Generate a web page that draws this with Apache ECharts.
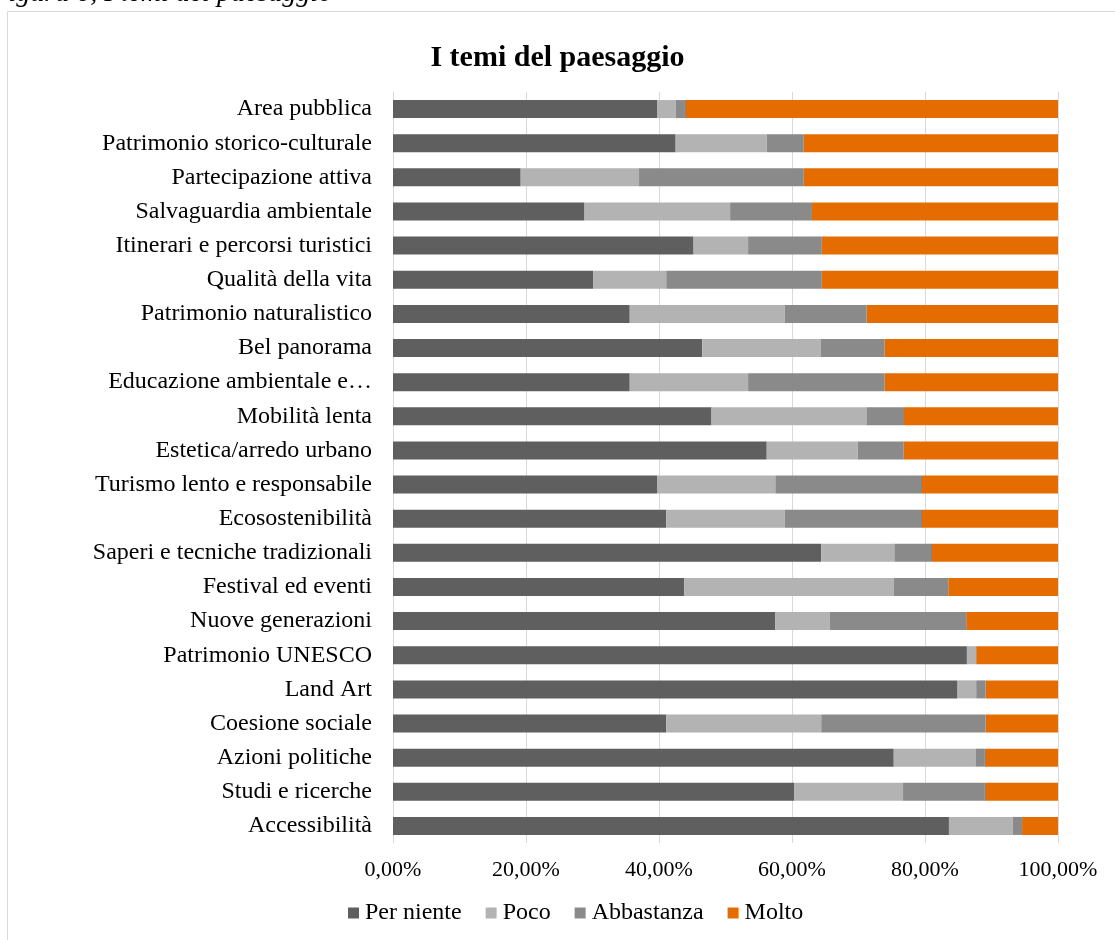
<!DOCTYPE html>
<html>
<head>
<meta charset="utf-8">
<title>I temi del paesaggio</title>
<script src="https://cdn.jsdelivr.net/npm/echarts@6/dist/echarts.min.js"></script>
<style>
  html, body { margin: 0; padding: 0; background: #fff; }
  #chart { width: 1115px; height: 940px; }
</style>
</head>
<body>
<div id="chart"></div>
<script>
// categorie, dall'alto verso il basso
const categories = [
  "Area pubblica",
  "Patrimonio storico-culturale",
  "Partecipazione attiva",
  "Salvaguardia ambientale",
  "Itinerari e percorsi turistici",
  "Qualità della vita",
  "Patrimonio naturalistico",
  "Bel panorama",
  "Educazione ambientale e…",
  "Mobilità lenta",
  "Estetica/arredo urbano",
  "Turismo lento e responsabile",
  "Ecosostenibilità",
  "Saperi e tecniche tradizionali",
  "Festival ed eventi",
  "Nuove generazioni",
  "Patrimonio UNESCO",
  "Land Art",
  "Coesione sociale",
  "Azioni politiche",
  "Studi e ricerche",
  "Accessibilità"
];

// valori in percentuale
const perNiente  = [39.7, 42.5, 19.2, 28.8, 45.2, 30.1, 35.6, 46.5, 35.6, 47.9, 56.2, 39.7, 41.1, 64.4, 43.8, 57.5, 86.3, 84.9, 41.1, 75.3, 60.3, 83.6];
const poco       = [2.8, 13.7, 17.8, 21.9, 8.2, 11.0, 23.3, 17.8, 17.8, 23.3, 13.7, 17.8, 17.8, 11.0, 31.5, 8.2, 1.4, 2.8, 23.3, 12.3, 16.4, 9.6];
const abbastanza = [1.4, 5.5, 24.7, 12.3, 11.0, 23.3, 12.3, 9.6, 20.5, 5.5, 6.9, 21.9, 20.5, 5.5, 8.2, 20.5, 0, 1.4, 24.7, 1.4, 12.3, 1.4];
const molto      = [56.1, 38.3, 38.3, 37.0, 35.6, 35.6, 28.8, 26.1, 26.1, 23.3, 23.2, 20.6, 20.6, 19.1, 16.5, 13.8, 12.3, 10.9, 10.9, 11.0, 11.0, 5.4];

const xTicks = [0, 20, 40, 60, 80, 100];

const seriesNames = ["Per niente", "Poco", "Abbastanza", "Molto"];
const seriesData = [perNiente, poco, abbastanza, molto];
const colors = ["#5f5f5f", "#b3b3b3", "#8a8a8a", "#e46c00"];

const fontFamily = '"Liberation Serif", "Times New Roman", serif';

const chart = echarts.init(document.getElementById("chart"));

const options = {
  animation: false,
  textStyle: { fontFamily: fontFamily, color: "#000" },
  title: {
    text: "I temi del paesaggio",
    left: "center",
    top: 38,
    textStyle: { fontFamily: fontFamily, fontSize: 30, fontWeight: "bold", color: "#000" }
  },
  graphic: [
    {
      type: "rect",
      shape: { x: 7.5, y: 11.5, width: 1200, height: 1000 },
      style: { fill: "none", stroke: "#d9d9d9", lineWidth: 1 },
      silent: true
    },
    {
      // didascalia tagliata in alto
      type: "text",
      x: 332,
      y: 8,
      style: {
        text: "Figura 6, I temi del paesaggio",
        font: "italic 28px " + fontFamily,
        fill: "#000",
        align: "right",
        verticalAlign: "bottom"
      },
      silent: true
    }
  ],
  legend: {
    data: seriesNames,
    left: 343,
    top: 896,
    icon: "rect",
    itemWidth: 11,
    itemHeight: 11,
    itemGap: 24,
    textStyle: { fontFamily: fontFamily, fontSize: 24, color: "#000", padding: [0, 0, 0, 1] }
  },
  grid: {
    left: 393,
    right: 57,
    top: 92,
    bottom: 97,
    containLabel: false
  },
  xAxis: {
    type: "value",
    min: xTicks[0],
    max: xTicks[xTicks.length - 1],
    interval: xTicks[1] - xTicks[0],
    axisLine: { show: false },
    axisTick: { show: false },
    splitLine: { lineStyle: { color: "#d9d9d9", width: 1 } },
    axisLabel: {
      margin: 16,
      fontSize: 22,
      color: "#000",
      formatter: function (v) {
        return v.toFixed(2).replace(".", ",") + "%";
      }
    }
  },
  yAxis: {
    type: "category",
    data: categories,
    inverse: true,
    axisTick: { show: false },
    axisLine: { show: true, lineStyle: { color: "#d9d9d9", width: 1 } },
    axisLabel: {
      margin: 21,
      fontSize: 24,
      color: "#000",
      interval: 0
    }
  },
  series: seriesNames.map(function (name, i) {
    return {
      name: name,
      type: "bar",
      stack: "totale",
      barWidth: 18,
      data: seriesData[i],
      itemStyle: { color: colors[i] }
    };
  })
};

chart.setOption(options);

window.addEventListener("resize", () => {
  chart.resize();
});
</script>
</body>
</html>
